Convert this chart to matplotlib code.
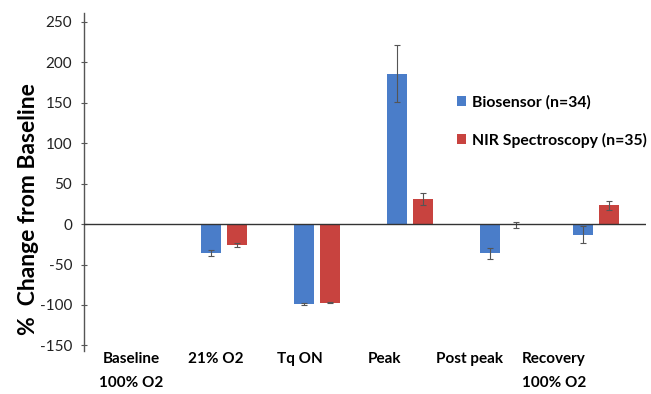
import matplotlib.pyplot as plt
import numpy as np

plt.rcParams['font.family'] = ['Lato', 'DejaVu Sans']

categories = ["Baseline\n100% O2", "21% O2", "Tq ON", "Peak", "Post peak", "Recovery\n100% O2"]
biosensor = [0, -36, -99, 186, -36, -13]
biosensor_err = [0, 4, 1, 35, 7, 10.5]
nir = [0, -26, -97, 30.5, -1, 23.5]
nir_err = [0, 2.5, 1, 7.5, 4, 5.5]
yticks = [-150, -100, -50, 0, 50, 100, 150, 200, 250]

blue = "#4a7dc9"
red = "#c8433f"


def no_zero(err):
    # skip the caps where there is no spread at all
    err = np.array(err, dtype=float)
    return np.where(err == 0, np.nan, err)


fig = plt.figure(figsize=(6.51, 3.94), dpi=100)
ax = fig.add_axes([0.129, 0.109, 0.863, 0.858])

x = np.arange(len(categories))
w = 0.215
err_kw = dict(ecolor="#555555", elinewidth=0.8, capsize=2.5, capthick=0.8)
ax.bar(x - 0.14, biosensor, w, yerr=no_zero(biosensor_err), color=blue,
       label="Biosensor (n=34)", error_kw=err_kw, zorder=2)
ax.bar(x + 0.14, nir, w, yerr=no_zero(nir_err), color=red,
       label="NIR Spectroscopy (n=35)", error_kw=err_kw, zorder=2)

ax.axhline(0, color="#333333", lw=1.0, zorder=3)
ax.set_xlim(-0.505, 5.54)
ax.set_ylim(-157, 261)
ax.set_yticks(yticks)
ax.set_yticklabels([str(v) for v in yticks], fontsize=11, color="#222222")

# labels drift slightly left of the groups
ax.set_xticks(x * 0.91)
ax.set_xticklabels(categories, fontsize=11, fontweight="bold", linespacing=1.9)
ax.tick_params(axis="x", length=0, pad=1)
ax.tick_params(axis="y", direction="inout", length=5, width=0.8, color="#555555", pad=6)

for s in ["top", "right", "bottom"]:
    ax.spines[s].set_visible(False)
ax.spines["left"].set_color("#555555")
ax.spines["left"].set_linewidth(1.0)

ax.set_ylabel("%  Change from Baseline", fontsize=16.5, fontweight="bold")
ax.yaxis.set_label_coords(-0.08, 0.42)

ax.legend(loc="upper left", bbox_to_anchor=(0.638, 0.80), frameon=False,
          handlelength=0.6, handleheight=0.6, handletextpad=0.4,
          labelspacing=1.5, prop={"weight": "bold", "size": 11.3})

fig.savefig("out.png", dpi=100)
